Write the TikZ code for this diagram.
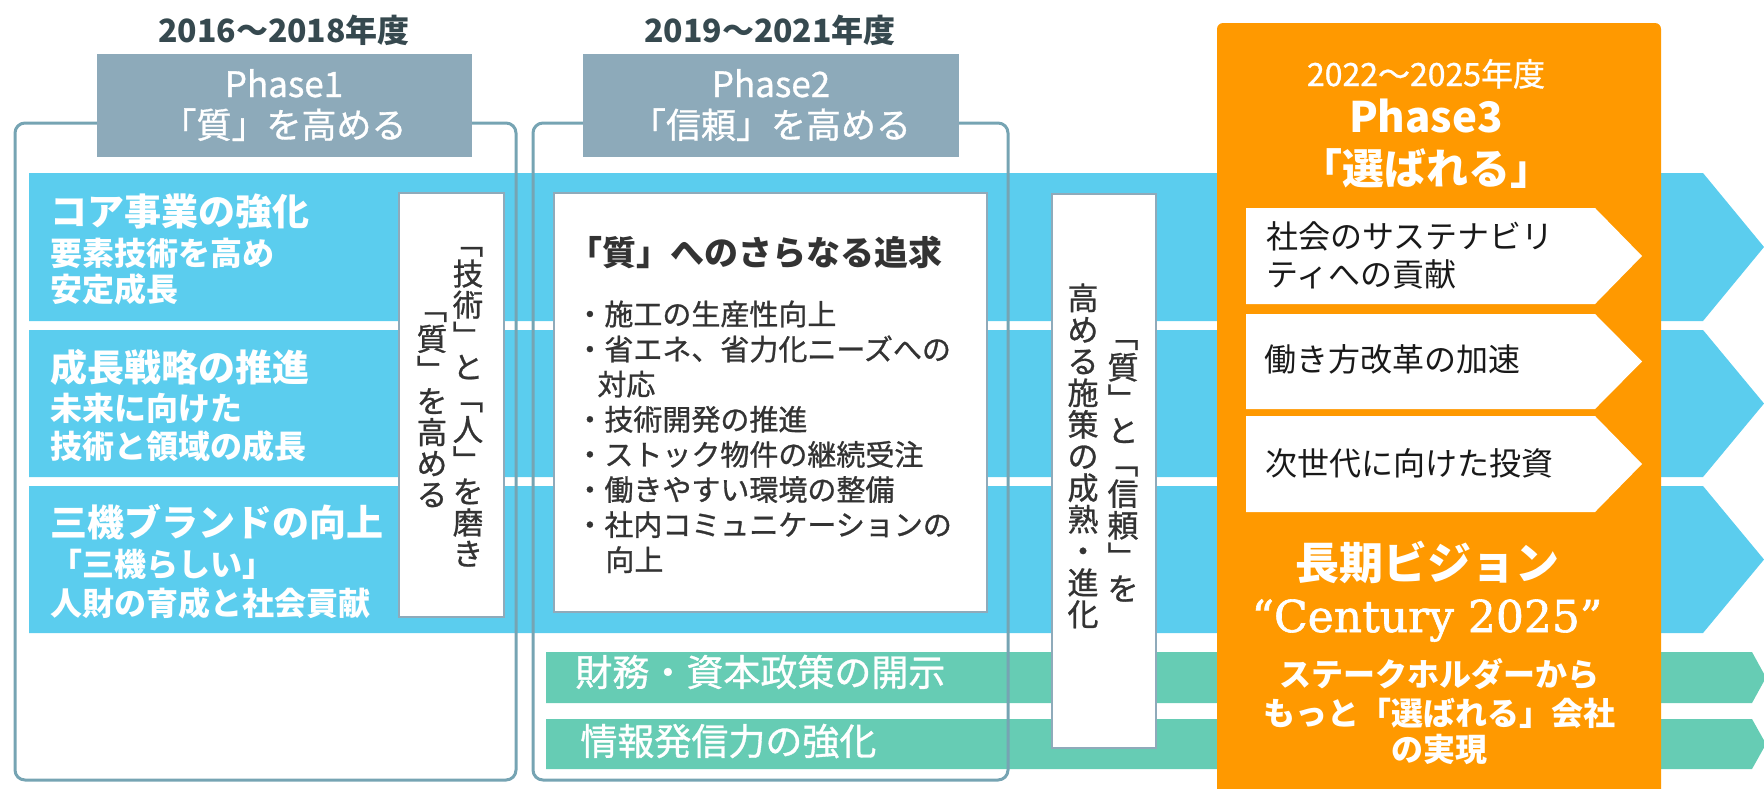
\documentclass[tikz,border=0pt]{standalone}
\usepackage{fontspec}
\setmainfont{Noto Sans CJK JP}
\newfontfamily\medfont{Noto Sans CJK JP}[BoldFont=Noto Sans CJK JP, BoldFeatures={FakeBold=0.9}]
\newfontfamily\romfont{DejaVu Serif}[BoldFont=DejaVu Serif, BoldFeatures={FakeBold=1.4}]
\usepackage{tikz}
\usepackage{xcolor}
\definecolor{bandC}{HTML}{5BCDEE}
\definecolor{verdeC}{HTML}{66CCB4}
\definecolor{aranC}{HTML}{FF9900}
\definecolor{headC}{HTML}{8DAABA}
\definecolor{frameC}{HTML}{76A4B3}
\definecolor{boxC}{HTML}{8FAABA}
\definecolor{yearC}{HTML}{36494F}
\definecolor{testoC}{HTML}{333333}
\newcommand{\fs}[1]{\fontsize{#1}{#1}\selectfont}
\newcommand{\tate}[1]{\vbox{\baselineskip=1.02em\lineskiplimit=-50pt\tatechar#1\relax}}
\def\tatechar#1{\ifx\relax#1\else\hbox to 1em{\hss#1\hss\vrule height .88em depth .12em width 0pt}\expandafter\tatechar\fi}
\tikzset{
  band/.style = {fill=bandC},
  verde/.style = {fill=verdeC},
  frame/.style = {draw=frameC, line width=1.5pt, rounded corners=5pt},
  headbox/.style = {fill=headC},
  whitebox/.style = {fill=white, draw=boxC, line width=1pt},
  txt/.style = {inner sep=0pt, anchor=base west},
  ctxt/.style = {inner sep=0pt, anchor=base},
  year/.style = {ctxt, text=yearC, font=\fs{16}\bfseries},
  headtxt/.style = {ctxt, text=white, font=\medfont\bfseries\fs{17.5}},
  titolo/.style = {txt, text=white, font=\fs{18.5}\bfseries},
  sotto/.style = {txt, text=white, font=\fs{16}\bfseries},
  punto/.style = {txt, text=testoC, font=\medfont\bfseries\fs{14.5}},
  tatetxt/.style = {inner sep=0pt, text=testoC, font=\medfont\bfseries\fs{15.25}},
  chev/.style = {txt, text=black!90, font=\fs{16}},
  obold/.style = {ctxt, text=white, font=\fs{16}\bfseries}
}
\begin{document}
\begin{tikzpicture}[x=0.5pt, y=-0.5pt]
    % Area
    \useasboundingbox (0,0) rectangle (1764,788);
    \clip (0,0) rectangle (1764,788);
    % Bande azzurre e verdi
    \foreach \a/\b in {173/321, 330/477, 486/633}
        \fill[band] (29,\a) -- (1703,\a) -- (1764,{(\a+\b)/2}) -- (1703,\b) -- (29,\b) -- cycle;
    \foreach \a/\b in {652/703, 719/769}
        \fill[verde] (546,\a) -- (1752,\a) -- (1766,{(\a+\b)/2}) -- (1752,\b) -- (546,\b) -- cycle;
    % Cornici e testate
    \draw[frame] (15,123) rectangle (516,780);
    \draw[frame] (533,123) rectangle (1008,780);
    \fill[headbox] (97,54) rectangle (472,157);
    \fill[headbox] (583,54) rectangle (959,157);
    % Riquadri bianchi
    \draw[whitebox] (399,193) rectangle (504,617);
    \draw[whitebox] (554,193) rectangle (987,612);
    \draw[whitebox] (1052,194) rectangle (1156,748);
    % Phase3
    \fill[aranC, rounded corners=3pt] (1217,820) -- (1217,23) -- (1661,23) -- (1661,820) -- cycle;
    \foreach \a/\b in {208/304, 314/409, 416/512}
        \fill[white] (1246,\a) -- (1595,\a) -- (1642,{(\a+\b)/2}) -- (1595,\b) -- (1246,\b) -- cycle;
    % Testate
    \node[year] (anni1) at (284,42) {2016〜2018年度};
    \node[year] (anni2) at (770,42) {2019〜2021年度};
    \node[headtxt] (fase1) at (284,97) {Phase1};
    \node[headtxt] (qual1) at (284,138) {「質」を高める};
    \node[headtxt] (fase2) at (771,97) {Phase2};
    \node[headtxt] (fid2) at (771,138) {「信頼」を高める};
    % Bande
    \node[titolo] (core) at (50,225) {コア事業の強化};
    \node[sotto] (core1) at (50,265) {要素技術を高め};
    \node[sotto] (core2) at (50,301) {安定成長};
    \node[titolo] (strat) at (50,381) {成長戦略の推進};
    \node[sotto] (strat1) at (50,420) {未来に向けた};
    \node[sotto] (strat2) at (50,458) {技術と領域の成長};
    \node[titolo] (brand) at (50,536) {三機ブランドの向上};
    \node[sotto] (brand1) at (50,576) {「三機らしい」};
    \node[sotto] (brand2) at (50,615) {人財の育成と社会貢献};
    % Testo verticale
    \node[tatetxt] (tec) at (468,398) {\tate{﹁技術﹂と﹁人﹂を磨き}};
    \node[tatetxt] (tec2) at (432,401) {\tate{﹁質﹂を高める}};
    \node[tatetxt, font=\medfont\bfseries\fs{15.5}] (mat) at (1123,462) {\tate{﹁質﹂と﹁信頼﹂を}};
    \node[tatetxt, font=\medfont\bfseries\fs{15.5}] (mat2) at (1083,456) {\tate{高める施策の成熟・進化}};
    % Phase2
    \node[txt, text=testoC, font=\fs{17}\bfseries] (ricerca) at (568,265) {「質」へのさらなる追求};
    \foreach \x/\t [count=\i] in {575/・施工の生産性向上, 575/・省エネ、省力化ニーズへの, 597/対応,
        575/・技術開発の推進, 575/・ストック物件の継続受注, 575/・働きやすい環境の整備,
        575/・社内コミュニケーションの, 605/向上}
        \node[punto] (p\i) at (\x,{325+35.1*(\i-1)}) {\t};
    \node[txt, text=white, font=\medfont\bfseries\fs{18.5}] (fin) at (575,686) {財務・資本政策の開示};
    \node[txt, text=white, font=\medfont\bfseries\fs{18.5}] (info) at (580,755) {情報発信力の強化};
    % Phase3
    \node[ctxt, text=white, font=\medfont\bfseries\fs{16}] (anni3) at (1426,86) {2022〜2025年度};
    \node[ctxt, text=white, font=\fs{21}\bfseries] (fase3) at (1426,132) {Phase3};
    \node[ctxt, text=white, font=\fs{21}\bfseries] (scelta) at (1426,184) {「選ばれる」};
    \node[chev] (soc1) at (1266,248) {社会のサステナビリ};
    \node[chev] (soc2) at (1266,286) {ティへの貢献};
    \node[chev] (lav) at (1264,371) {働き方改革の加速};
    \node[chev] (inv) at (1265,475) {次世代に向けた投資};
    \node[ctxt, text=white, font=\fs{22}\bfseries] (vis) at (1427,579) {長期ビジョン};
    \node[ctxt, text=white, font=\romfont\bfseries\fs{22}] (cent) at (1427,632) {“Century 2025”};
    \node[obold] (sh1) at (1439,686) {ステークホルダーから};
    \node[obold] (sh2) at (1439,725) {もっと「選ばれる」会社};
    \node[obold] (sh3) at (1439,761) {の実現};
\end{tikzpicture}
\end{document}
